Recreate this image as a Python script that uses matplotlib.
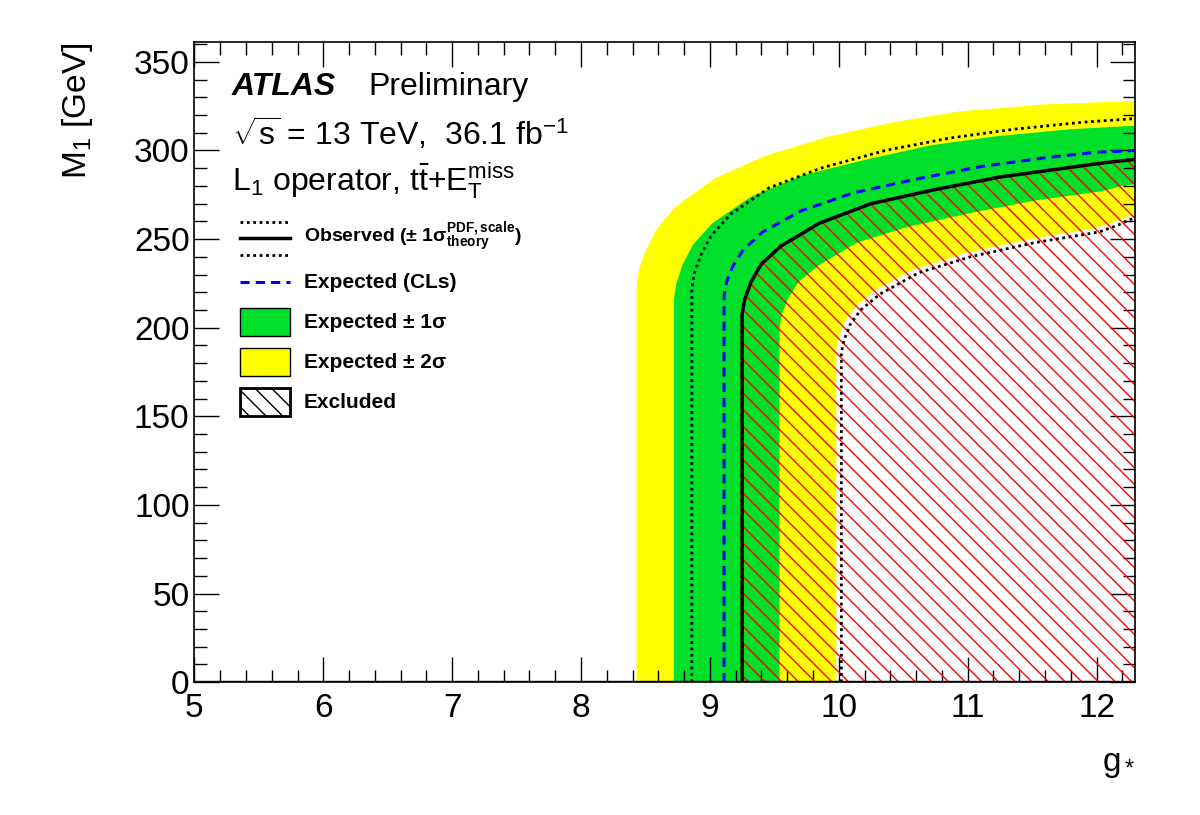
import matplotlib
matplotlib.use("Agg")
import matplotlib.pyplot as plt
from matplotlib.patches import Polygon, Rectangle
from matplotlib.lines import Line2D
from matplotlib.ticker import MultipleLocator

plt.rcParams['font.family'] = ['Liberation Sans', 'DejaVu Sans']
plt.rcParams['mathtext.fontset'] = 'custom'
plt.rcParams['mathtext.rm'] = 'Liberation Sans'
plt.rcParams['mathtext.it'] = 'Liberation Sans:italic'
plt.rcParams['mathtext.bf'] = 'Liberation Sans:bold'
plt.rcParams['hatch.color'] = 'red'
plt.rcParams['hatch.linewidth'] = 1.0

XMAX = 12.3
yel_out_g = [8.43, 8.43, 8.45, 8.50, 8.58, 8.73, 9.03, 9.43, 9.93, 10.43, 10.93, 11.6, 12.3]
yel_out_m = [0, 222, 233, 243, 255, 268, 284, 297, 308, 316, 322, 326, 328]
obs_up_g = [8.86, 8.86, 8.88, 8.93, 9.01, 9.16, 9.46, 9.86, 10.36, 10.86, 11.36, 11.9, 12.3]
obs_up_m = [0, 222, 231, 241, 252, 264, 279, 290, 300, 307, 312, 316, 318]
grn_out_g = [8.72, 8.72, 8.74, 8.79, 8.87, 9.02, 9.32, 9.72, 10.22, 10.72, 11.22, 11.8, 12.3]
grn_out_m = [0, 216, 225, 236, 247, 259, 274, 286, 295, 303, 308, 312, 314]
exp_g = [9.11, 9.11, 9.13, 9.18, 9.26, 9.41, 9.71, 10.11, 10.61, 11.11, 11.61, 12.0, 12.3]
exp_m = [0, 218, 226, 235, 244, 254, 266, 276, 284, 291, 296, 299, 300]
obs_g = [9.25, 9.25, 9.27, 9.32, 9.40, 9.55, 9.85, 10.25, 10.75, 11.25, 11.75, 12.05, 12.3]
obs_m = [0, 208, 216, 226, 236, 246, 259, 270, 278, 285, 290, 293, 295]
grn_in_g = [9.54, 9.54, 9.56, 9.61, 9.69, 9.84, 10.14, 10.54, 11.04, 11.54, 12.04, 12.2, 12.3]
grn_in_m = [0, 200, 208, 217, 226, 235, 248, 257, 265, 272, 277, 280, 281]
yel_in_g = [9.98, 9.98, 10.00, 10.05, 10.13, 10.28, 10.58, 10.98, 11.48, 11.98, 12.15, 12.25, 12.3]
yel_in_m = [0, 188, 195, 204, 212, 221, 233, 242, 250, 256, 260, 263, 264]
obs_dn_g = [10.02, 10.02, 10.04, 10.09, 10.17, 10.32, 10.62, 11.02, 11.52, 12.02, 12.17, 12.26, 12.3]
obs_dn_m = [0, 186, 193, 202, 210, 219, 231, 240, 248, 254, 258, 261, 262]

fig = plt.figure(figsize=(12, 8.15), dpi=100)
ax = fig.add_axes([0.162, 0.163, 0.784, 0.785])
ax.set_xlim(5, XMAX)
ax.set_ylim(0, 361)

def band(og, om, ig, im, color):
    pts = list(zip(og, om)) + list(zip(ig, im))[::-1]
    ax.add_patch(Polygon(pts, closed=True, facecolor=color, edgecolor='none', zorder=1))

band(yel_out_g, yel_out_m, yel_in_g, yel_in_m, '#ffff00')
band(grn_out_g, grn_out_m, grn_in_g, grn_in_m, '#00e02a')
ax.add_patch(Polygon(list(zip(obs_g, obs_m)) + [(XMAX, 0)], closed=True, facecolor='none',
                     edgecolor='red', hatch='\\\\', linewidth=0, zorder=2))
ax.plot(exp_g, exp_m, color='#0000ff', ls=(0, (3, 2)), lw=2.2, zorder=3)
ax.plot(obs_g, obs_m, color='black', lw=2.5, zorder=4)
ax.plot(obs_up_g, obs_up_m, color='black', ls=(0, (1, 1.3)), lw=2, zorder=4)
ax.plot(obs_dn_g, obs_dn_m, color='black', ls=(0, (1, 1.3)), lw=2, zorder=4)
ax.plot([5, XMAX], [0.5, 0.5], color='black', lw=1, zorder=4)

ax.xaxis.set_major_locator(MultipleLocator(1))
ax.xaxis.set_minor_locator(MultipleLocator(0.2))
ax.yaxis.set_major_locator(MultipleLocator(50))
ax.yaxis.set_minor_locator(MultipleLocator(10))
ax.tick_params(which='both', direction='in', top=True, right=True, labelsize=24, width=1)
ax.tick_params(which='major', length=18)
ax.tick_params(which='minor', length=9)
ax.tick_params(axis='x', pad=8)
for s in ax.spines.values():
    s.set_linewidth(1.2)

ax.set_ylabel(r'M$_1$ [GeV]', fontsize=24, loc='top', labelpad=28)
ax.set_xlabel(r'g$_*$', fontsize=24, loc='right', labelpad=18)

T = ax.transAxes
ax.text(0.040, 0.93, 'ATLAS', fontsize=23, fontweight='bold', fontstyle='italic', transform=T, va='center')
ax.text(0.185, 0.93, 'Preliminary', fontsize=23, transform=T, va='center')
ax.text(0.040, 0.858, r'$\sqrt{\mathrm{s}}$ = 13 TeV,  36.1 fb$^{-1}$', fontsize=23, transform=T, va='center')
ax.text(0.040, 0.784, r'L$_1$ operator, t$\bar{\mathrm{t}}$+E$_\mathrm{T}^\mathrm{miss}$', fontsize=23, transform=T, va='center')

x0, x1, xt = 0.049, 0.102, 0.116
for yy in (0.719, 0.667):
    ax.add_line(Line2D([x0, x1], [yy, yy], color='black', ls=(0, (1, 1.3)), lw=2, transform=T))
ax.add_line(Line2D([x0, x1], [0.695, 0.695], color='black', lw=2.5, transform=T))
ax.text(xt, 0.695, r'Observed (± 1σ$^{\mathbf{PDF,scale}}_{\mathbf{theory}}$)', fontsize=14,
        fontweight='bold', transform=T, va='center')
ax.add_line(Line2D([x0, x1], [0.625, 0.625], color='#0000ff', ls=(0, (3, 2)), lw=2.2, transform=T))
ax.text(xt, 0.625, 'Expected (CLs)', fontsize=15, fontweight='bold', transform=T, va='center')
h = 0.044
ax.add_patch(Rectangle((x0, 0.5625 - h / 2), x1 - x0, h, facecolor='#00e02a', edgecolor='black', lw=1, transform=T))
ax.text(xt, 0.5625, 'Expected ± 1σ', fontsize=15, fontweight='bold', transform=T, va='center')
ax.add_patch(Rectangle((x0, 0.5 - h / 2), x1 - x0, h, facecolor='#ffff00', edgecolor='black', lw=1, transform=T))
ax.text(xt, 0.5, 'Expected ± 2σ', fontsize=15, fontweight='bold', transform=T, va='center')
ax.add_patch(Rectangle((x0, 0.4375 - h / 2), x1 - x0, h, facecolor='white', edgecolor='black', lw=2,
                       hatch='\\\\', transform=T))
ax.text(xt, 0.4375, 'Excluded', fontsize=15, fontweight='bold', transform=T, va='center')

fig.savefig('out.png', dpi=100)
